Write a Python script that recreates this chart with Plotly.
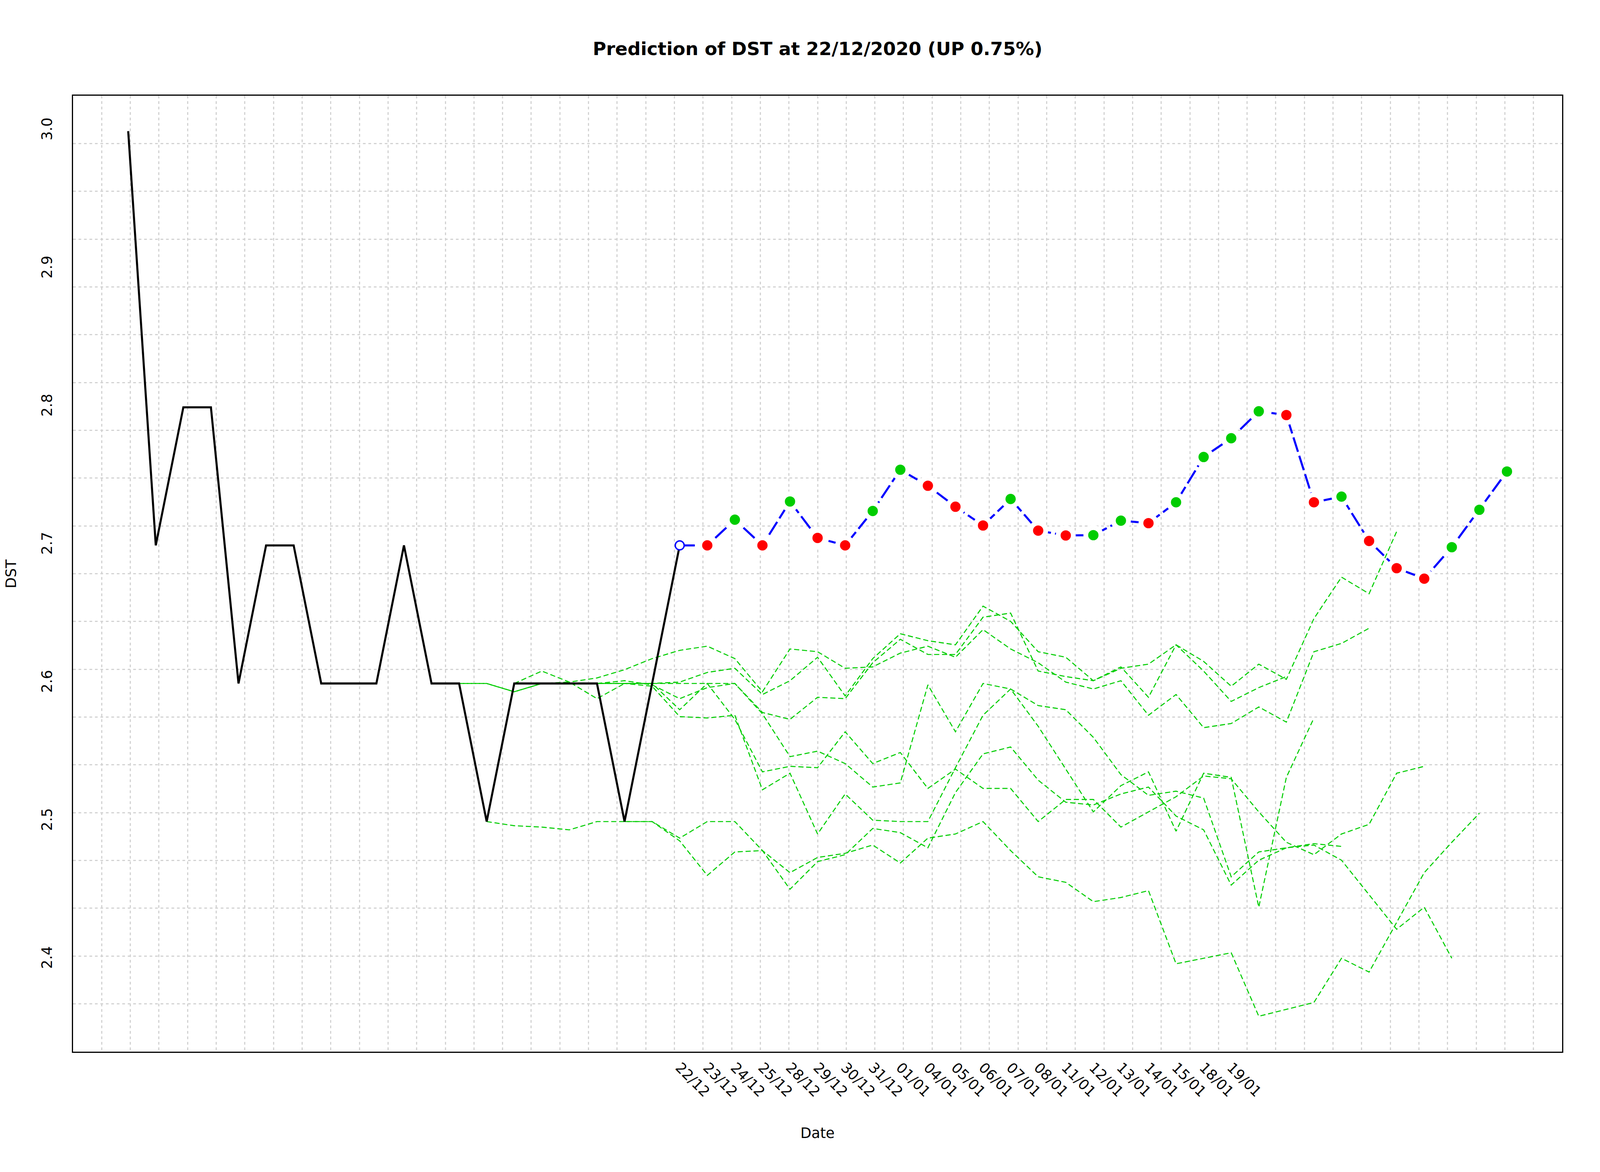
import plotly.graph_objects as go

# ---------------- data ----------------
# observed DST values, index 1..21
hist_values = [3.0, 2.7, 2.8, 2.8, 2.6, 2.7, 2.7, 2.6, 2.6, 2.6, 2.7, 2.6, 2.6,
               2.5, 2.6, 2.6, 2.6, 2.6, 2.5, 2.6, 2.7]

# predicted path, index 22..51 (starts from last observed value at index 21)
pred_values = [2.700, 2.7186, 2.700, 2.7318, 2.7054, 2.700, 2.7249, 2.7548,
               2.7432, 2.728, 2.7144, 2.7336, 2.7107, 2.7072, 2.7074, 2.7179,
               2.7161, 2.7312, 2.764, 2.7776, 2.7971, 2.7944, 2.7312, 2.7353,
               2.7032, 2.6835, 2.6759, 2.6987, 2.7258, 2.7535]

# x tick labels, placed from index 21 onwards
date_labels = ["22/12", "23/12", "24/12", "25/12", "28/12", "29/12", "30/12",
               "31/12", "01/01", "04/01", "05/01", "06/01", "07/01", "08/01",
               "11/01", "12/01", "13/01", "14/01", "15/01", "18/01", "19/01"]
label_start = 21

# earlier forecast paths (green dashed), each with its starting index
path_origins = [12, 13, 14, 15, 16, 17, 18, 19]
path_12 = [2.600, 2.600, 2.600, 2.594, 2.600, 2.601, 2.589, 2.600, 2.600, 2.601,
           2.608, 2.611, 2.592, 2.602, 2.619, 2.591, 2.618, 2.636, 2.631, 2.628,
           2.656, 2.645, 2.623, 2.619, 2.602, 2.612, 2.590, 2.628, 2.609, 2.587,
           2.597, 2.605]
path_13 = [2.600, 2.600, 2.594, 2.600, 2.600, 2.600, 2.600, 2.598, 2.576, 2.575,
           2.577, 2.523, 2.535, 2.491, 2.520, 2.501, 2.500, 2.500, 2.539, 2.577,
           2.596, 2.569, 2.538, 2.507, 2.526, 2.536, 2.493, 2.535, 2.532, 2.438,
           2.532, 2.575]
path_14 = [2.500, 2.497, 2.496, 2.494, 2.500, 2.500, 2.500, 2.486, 2.461, 2.478,
           2.479, 2.451, 2.471, 2.476, 2.495, 2.492, 2.481, 2.521, 2.549, 2.554,
           2.530, 2.514, 2.512, 2.520, 2.525, 2.504, 2.494, 2.454, 2.472, 2.481,
           2.484, 2.482]
path_15 = [2.600, 2.609, 2.601, 2.604, 2.610, 2.618, 2.624, 2.627, 2.618, 2.594,
           2.625, 2.623, 2.611, 2.612, 2.622, 2.627, 2.619, 2.639, 2.625, 2.615,
           2.601, 2.596, 2.602, 2.577, 2.592, 2.568, 2.571, 2.583, 2.572, 2.623,
           2.629, 2.640]
path_16 = [2.600, 2.600, 2.600, 2.602, 2.599, 2.589, 2.597, 2.600, 2.579, 2.574,
           2.590, 2.589, 2.615, 2.632, 2.621, 2.621, 2.648, 2.651, 2.609, 2.605,
           2.602, 2.611, 2.614, 2.628, 2.616, 2.598, 2.614, 2.603, 2.647, 2.677,
           2.665, 2.710]
path_17 = [2.600, 2.600, 2.600, 2.600, 2.581, 2.600, 2.574, 2.536, 2.540, 2.539,
           2.565, 2.542, 2.550, 2.524, 2.538, 2.524, 2.524, 2.500, 2.516, 2.516,
           2.496, 2.507, 2.518, 2.533, 2.531, 2.507, 2.485, 2.476, 2.491, 2.498,
           2.535, 2.540]
path_18 = [2.600, 2.600, 2.600, 2.600, 2.600, 2.600, 2.578, 2.547, 2.551, 2.542,
           2.525, 2.528, 2.599, 2.565, 2.600, 2.596, 2.584, 2.581, 2.561, 2.534,
           2.519, 2.522, 2.517, 2.460, 2.478, 2.481, 2.483, 2.472, 2.447, 2.422,
           2.438, 2.401]
path_19 = [2.500, 2.500, 2.488, 2.500, 2.500, 2.479, 2.463, 2.474, 2.477, 2.483,
           2.470, 2.488, 2.491, 2.500, 2.479, 2.460, 2.456, 2.442, 2.445, 2.450,
           2.397, 2.401, 2.405, 2.359, 2.364, 2.369, 2.401, 2.391, 2.427, 2.463,
           2.485, 2.506]
paths = [path_12, path_13, path_14, path_15, path_16, path_17, path_18, path_19]

y_ticks = [2.4, 2.5, 2.6, 2.7, 2.8, 2.9, 3.0]

# ---------------- styling ----------------
FIG_W, FIG_H = 4096, 3000       # page viewport
KX = FIG_W / 5400.0             # horizontal scale vs reference pixels
KY = FIG_H / 3000.0             # vertical scale vs reference pixels
KF = 0.78                       # size scale for fonts
KS = 0.88                       # size scale for strokes / markers

def s(v):
    return v * KF

def w(v):
    return v * KS

def dash(a, b):
    return f"{w(a):.1f}px,{w(b):.1f}px"

FONT = "DejaVu Sans"
GREEN = "#00CD00"
GRID_COLOR = "#D3D3D3"
GRID_NX, GRID_NY = 52, 20
TICK_FS = s(47)

hist_x = list(range(1, len(hist_values) + 1))
last_x = hist_x[-1]
pred_x = list(range(last_x + 1, last_x + 1 + len(pred_values)))

# axis ranges like R (4% extension)
all_y = hist_values + pred_values + [v for p in paths for v in p]
ymin_d, ymax_d = min(all_y), max(all_y)
xmin_d, xmax_d = 1, pred_x[-1]
ext_y = 0.04 * (ymax_d - ymin_d)
ext_x = 0.04 * (xmax_d - xmin_d)
x_range = [xmin_d - ext_x, xmax_d + ext_x]
y_range = [ymin_d - ext_y, ymax_d + ext_y]

grid_x = [x_range[0] + k * (x_range[1] - x_range[0]) / GRID_NX for k in range(1, GRID_NX)]
grid_y = [y_range[0] + k * (y_range[1] - y_range[0]) / GRID_NY for k in range(1, GRID_NY)]

fig = go.Figure()

# invisible trace to hold the grid subplot
fig.add_trace(go.Scatter(x=[None], y=[None], mode="lines", showlegend=False,
                         hoverinfo="skip", xaxis="x", yaxis="y"))

# green forecast paths
for origin, vals in zip(path_origins, paths):
    fig.add_trace(go.Scatter(
        x=list(range(origin, origin + len(vals))), y=vals, mode="lines",
        line=dict(color=GREEN, width=w(3), dash=dash(15, 8)),
        showlegend=False, xaxis="x2", yaxis="y2"))

# observed black line
fig.add_trace(go.Scatter(x=hist_x, y=hist_values, mode="lines",
                         line=dict(color="black", width=w(6)),
                         showlegend=False, xaxis="x2", yaxis="y2"))

# predicted blue line
fig.add_trace(go.Scatter(x=[last_x] + pred_x, y=[hist_values[-1]] + pred_values,
                         mode="lines",
                         line=dict(color="blue", width=w(6), dash=dash(44, 12)),
                         showlegend=False, xaxis="x2", yaxis="y2"))

# coloured points: green when up, red otherwise (white ring gives the gap)
prev = [hist_values[-1]] + pred_values[:-1]
pt_colors = [GREEN if v > p else "red" for v, p in zip(pred_values, prev)]
ring = w(14)
fig.add_trace(go.Scatter(x=pred_x, y=pred_values, mode="markers",
                         marker=dict(color=pt_colors, size=w(30) + ring,
                                     line=dict(color="white", width=ring)),
                         showlegend=False, xaxis="x2", yaxis="y2"))

# open circle at the prediction start
fig.add_trace(go.Scatter(x=[last_x], y=[hist_values[-1]], mode="markers",
                         marker=dict(symbol="circle", color="white", size=w(26),
                                     line=dict(color="blue", width=w(4))),
                         showlegend=False, xaxis="x2", yaxis="y2"))

tick_x = list(range(label_start, label_start + len(date_labels)))

grid_axis = dict(tickmode="array", showticklabels=False, ticks="",
                 showgrid=True, gridcolor=GRID_COLOR, gridwidth=w(3),
                 griddash=dash(8, 8), zeroline=False, showline=True,
                 mirror=True, linecolor="black", linewidth=w(3))

fig.update_layout(
    width=FIG_W, height=FIG_H,
    paper_bgcolor="white", plot_bgcolor="white",
    margin=dict(l=246 * KX, r=128 * KX, t=245 * KY, b=308 * KY),
    font=dict(family=FONT, size=TICK_FS, color="black"),
    title=dict(text="Prediction of DST at 22/12/2020 (UP 0.75%)",
               font=dict(family=FONT, size=s(60), color="black", weight="bold"),
               x=0.5, xref="paper", xanchor="center",
               y=1 - 125 / 3000, yref="container", yanchor="middle"),
    xaxis=dict(range=x_range, tickvals=grid_x, **grid_axis),
    yaxis=dict(range=y_range, tickvals=grid_y, **grid_axis),
    xaxis2=dict(range=x_range, overlaying="x", anchor="y2", side="bottom",
                tickmode="array", tickvals=tick_x, ticktext=date_labels,
                tickangle=45, ticks="", showgrid=False, zeroline=False,
                showline=False, ticklabelstandoff=11,
                tickfont=dict(family=FONT, size=TICK_FS, color="black")),
    yaxis2=dict(range=y_range, overlaying="y", anchor="x2", side="left",
                tickmode="array", tickvals=y_ticks,
                ticktext=[f"{v:.1f}" for v in y_ticks],
                tickangle=-90, ticks="", showgrid=False, zeroline=False,
                showline=False, ticklabelstandoff=46,
                tickfont=dict(family=FONT, size=TICK_FS, color="black")),
    annotations=[
        dict(text="Date", x=0.5, xref="paper", y=-(2900 - 2692) / 2447,
             yref="paper", xanchor="center", yanchor="middle", showarrow=False,
             font=dict(family=FONT, size=TICK_FS, color="black")),
        dict(text="DST", x=(37 - 246) / 5026, xref="paper", y=0.5,
             yref="paper", xanchor="center", yanchor="middle", showarrow=False,
             textangle=-90, font=dict(family=FONT, size=TICK_FS, color="black")),
    ],
)

fig.write_html("out.html", config={"displayModeBar": False},
               post_script="document.body.style.margin='0';")
